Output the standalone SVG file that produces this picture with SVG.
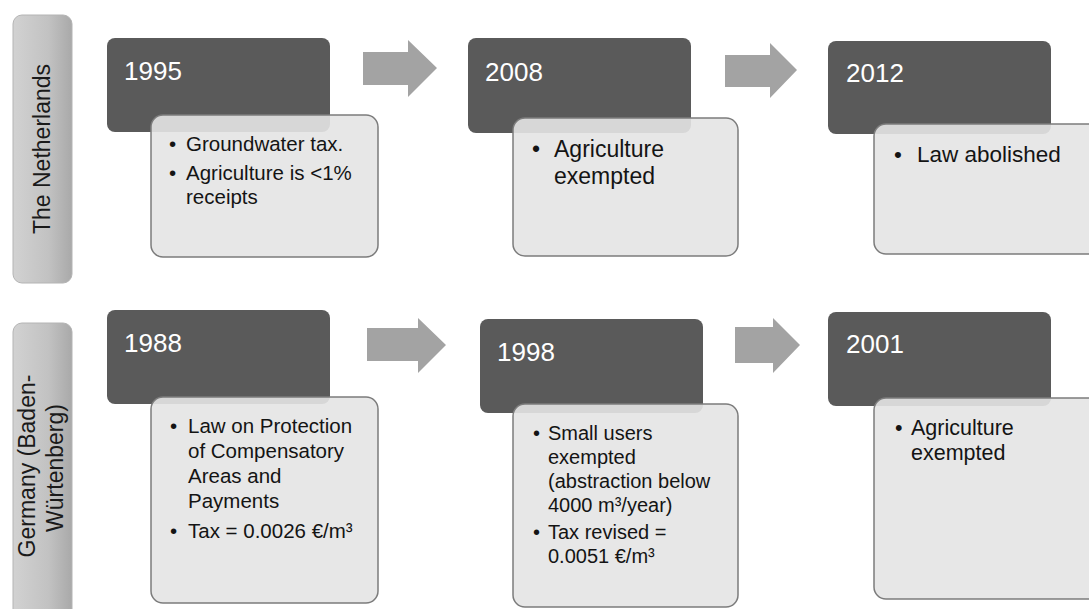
<svg xmlns="http://www.w3.org/2000/svg" width="1089" height="609" viewBox="0 0 1089 609">
<defs>
<linearGradient id="barGrad" x1="0" y1="0" x2="1" y2="0">
<stop offset="0" stop-color="#d2d2d2"/>
<stop offset="0.6" stop-color="#c2c2c2"/>
<stop offset="1" stop-color="#a9a9a9"/>
</linearGradient>
</defs>
<style>
.bar{fill:url(#barGrad);stroke:#b4b4b4;stroke-width:1}
.dark{fill:#5a5a5a}
.light{fill:#e4e4e4;fill-opacity:0.9;stroke:#7c7c7c;stroke-width:1.5}
.arrow{fill:#a3a3a3}
.year{font-family:"Liberation Sans",Arial,sans-serif;font-size:26px;fill:#ffffff}
.lbl{font-family:"Liberation Sans",Arial,sans-serif;font-size:23px;fill:#1a1a1a;text-anchor:middle}
.txt{font-family:"Liberation Sans",Arial,sans-serif;fill:#141414}
</style>
<rect width="1089" height="609" fill="#ffffff"/>

<g id="label-netherlands">
<rect class="bar" x="13" y="15" width="59" height="268" rx="9"/>
<text class="lbl" transform="translate(50,149) rotate(-90)">The Netherlands</text>
</g>
<g id="label-germany">
<rect class="bar" x="13" y="323" width="59" height="300" rx="9"/>
<text class="lbl" font-size="22.5" transform="translate(35,466) rotate(-90)">Germany (Baden-</text>
<text class="lbl" font-size="22.5" transform="translate(63,468) rotate(-90)">Würtenberg)</text>
</g>

<g id="connectors">
<polygon class="arrow" points="363,52 408,52 408,40 437,68 408,97 408,85 363,85"/>
<polygon class="arrow" points="725,55 770,55 770,43 797,70 770,98 770,87 725,87"/>
<polygon class="arrow" points="367,328 418,328 418,318 446,345 418,373 418,361 367,361"/>
<polygon class="arrow" points="735,327 773,327 773,318 800,345 773,373 773,363 735,363"/>
</g>

<g id="node-1995">
<rect class="dark" x="107" y="38" width="223" height="94" rx="8"/>
<text class="year" x="124" y="80">1995</text>
<rect class="light" x="151" y="115" width="227" height="142" rx="12"/>
<text class="txt" font-size="20.5"><tspan x="169" y="151">•</tspan><tspan x="186" y="151">Groundwater tax.</tspan><tspan x="169" y="180">•</tspan><tspan x="186" y="180">Agriculture is &lt;1%</tspan><tspan x="186" y="204">receipts</tspan></text>
</g>

<g id="node-2008">
<rect class="dark" x="468" y="38" width="223" height="95" rx="8"/>
<text class="year" x="485" y="81">2008</text>
<rect class="light" x="513" y="118" width="225" height="138" rx="12"/>
<text class="txt" font-size="23"><tspan x="532" y="157">•</tspan><tspan x="554" y="157">Agriculture</tspan><tspan x="554" y="184">exempted</tspan></text>
</g>

<g id="node-2012">
<rect class="dark" x="828" y="41" width="223" height="93" rx="8"/>
<text class="year" x="846" y="82">2012</text>
<rect class="light" x="874" y="124" width="226" height="130" rx="12"/>
<text class="txt" font-size="22.5"><tspan x="894" y="162">•</tspan><tspan x="917" y="162">Law abolished</tspan></text>
</g>

<g id="node-1988">
<rect class="dark" x="107" y="310" width="223" height="94" rx="8"/>
<text class="year" x="124" y="352">1988</text>
<rect class="light" x="151" y="397" width="227" height="206" rx="12"/>
<text class="txt" font-size="20.5"><tspan x="170" y="433">•</tspan><tspan x="188" y="433">Law on Protection</tspan><tspan x="188" y="458">of Compensatory</tspan><tspan x="188" y="483">Areas and</tspan><tspan x="188" y="508">Payments</tspan><tspan x="170" y="538">•</tspan><tspan x="188" y="538">Tax = 0.0026 €/m³</tspan></text>
</g>

<g id="node-1998">
<rect class="dark" x="480" y="319" width="223" height="94" rx="8"/>
<text class="year" x="497" y="361">1998</text>
<rect class="light" x="513" y="404" width="225" height="203" rx="12"/>
<text class="txt" font-size="20"><tspan x="533" y="440">•</tspan><tspan x="548" y="440">Small users</tspan><tspan x="548" y="464">exempted</tspan><tspan x="548" y="488">(abstraction below</tspan><tspan x="548" y="512">4000 m³/year)</tspan><tspan x="533" y="539">•</tspan><tspan x="548" y="539">Tax revised =</tspan><tspan x="548" y="563">0.0051 €/m³</tspan></text>
</g>

<g id="node-2001">
<rect class="dark" x="828" y="312" width="223" height="94" rx="8"/>
<text class="year" x="846" y="353">2001</text>
<rect class="light" x="874" y="398" width="226" height="201" rx="12"/>
<text class="txt" font-size="21.5"><tspan x="895" y="435">•</tspan><tspan x="911" y="435">Agriculture</tspan><tspan x="911" y="460">exempted</tspan></text>
</g>
</svg>
